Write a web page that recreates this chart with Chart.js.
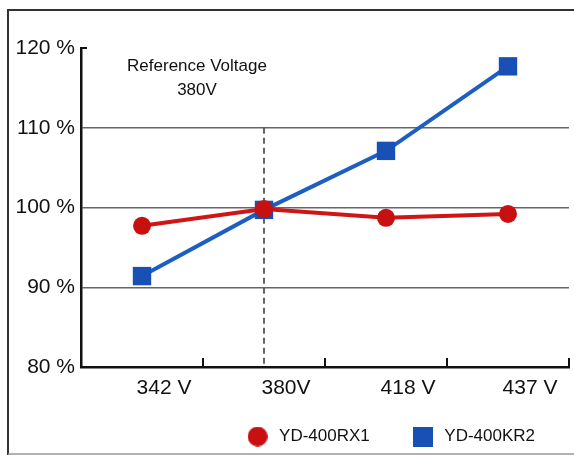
<!DOCTYPE html>
<html>
<head>
<meta charset="utf-8">
<script src="https://cdn.jsdelivr.net/npm/chart.js@4"></script>
<style>
html,body{margin:0;padding:0;background:#fff;}
#wrap{position:relative;width:574px;height:455px;}
</style>
</head>
<body>
<div id="wrap"><canvas id="c" width="574" height="455"></canvas></div>
<script>
const categories = ['342 V', '380V', '418 V', '437 V'];
const seriesRX1 = [97.7, 99.8, 98.7, 99.2];
const seriesKR2 = [91.4, 99.7, 107.1, 117.7];
const seriesNames = ['YD-400RX1', 'YD-400KR2'];
const yTicks = [80, 90, 100, 110, 120];
const referenceIndex = 1;
const annotationLines = ['Reference Voltage', '380V'];

const FONT = 'Arial, "Liberation Sans", sans-serif';
const RED = '#c81010';
const BLUE = '#1850b5';

function markerImage(kind, color) {
  const c = document.createElement('canvas');
  c.width = 20; c.height = 20;
  const g = c.getContext('2d');
  g.fillStyle = color;
  if (kind === 'circle') { g.beginPath(); g.arc(10, 10, 10, 0, Math.PI * 2); g.fill(); }
  else { g.fillRect(0, 0, 20, 20); }
  return c;
}
const legendMarkers = [markerImage('circle', RED), markerImage('rect', BLUE)];

const decor = {
  id: 'decor',
  afterLayout(chart) {
    const lg = chart.legend;
    if (lg) { lg.left += 6; lg.right += 6; }
    // let the x labels draw below the (compact) axis box
    chart.scales.x.bottom += 40;
  },
  beforeDatasetsDraw(chart) {
    const ctx = chart.ctx;
    const x = chart.scales.x, y = chart.scales.y;
    ctx.save();
    // frame
    ctx.strokeStyle = '#333';
    ctx.lineWidth = 2;
    ctx.beginPath();
    ctx.moveTo(8, 455); ctx.lineTo(8, 10); ctx.lineTo(574, 10);
    ctx.stroke();
    ctx.strokeStyle = '#999';
    ctx.lineWidth = 1.5;
    ctx.beginPath();
    ctx.moveTo(8, 454); ctx.lineTo(574, 454);
    ctx.stroke();
    // dashed reference line
    const rx = x.getPixelForValue(referenceIndex);
    ctx.strokeStyle = '#333';
    ctx.lineWidth = 1.5;
    ctx.setLineDash([6, 4]);
    ctx.beginPath();
    ctx.moveTo(rx, y.getPixelForValue(110));
    ctx.lineTo(rx, y.bottom);
    ctx.stroke();
    ctx.setLineDash([]);
    // x ticks pointing inward
    ctx.strokeStyle = '#111';
    ctx.lineWidth = 2;
    const half = (x.getPixelForValue(1) - x.getPixelForValue(0)) / 2;
    for (let i = 0; i < categories.length; i++) {
      const tx = x.getPixelForValue(i) + half;
      ctx.beginPath();
      ctx.moveTo(tx, y.bottom);
      ctx.lineTo(tx, y.bottom - 9);
      ctx.stroke();
    }
    // top stub on y axis
    ctx.beginPath();
    ctx.moveTo(x.left, y.top);
    ctx.lineTo(x.left + 6, y.top);
    ctx.stroke();
    // annotation
    ctx.fillStyle = '#111';
    ctx.font = '17px ' + FONT;
    ctx.textAlign = 'center';
    ctx.textBaseline = 'middle';
    const ax = (x.getPixelForValue(0) + x.getPixelForValue(1)) / 2 - 6;
    ctx.fillText(annotationLines[0], ax, y.getPixelForValue(117.7));
    ctx.fillText(annotationLines[1], ax, y.getPixelForValue(114.7));
    ctx.restore();
  }
};

new Chart(document.getElementById('c'), {
  type: 'line',
  data: {
    labels: categories,
    datasets: [
      {
        label: seriesNames[0],
        data: seriesRX1,
        borderColor: '#cf1515',
        backgroundColor: RED,
        borderWidth: 4,
        pointStyle: 'circle',
        pointRadius: 9,
        pointBorderWidth: 0,
        pointBackgroundColor: RED,
        tension: 0
      },
      {
        label: seriesNames[1],
        data: seriesKR2,
        borderColor: '#1d5ec2',
        backgroundColor: BLUE,
        borderWidth: 4,
        pointStyle: 'rect',
        pointRadius: 13,
        pointBorderWidth: 0,
        pointBackgroundColor: BLUE,
        tension: 0
      }
    ]
  },
  options: {
    responsive: false,
    animation: false,
    devicePixelRatio: 1,
    layout: { autoPadding: false, padding: { top: 48, right: 5, left: 0, bottom: 0 } },
    plugins: {
      tooltip: { enabled: false },
      legend: {
        position: 'bottom',
        align: 'end',
        labels: {
          usePointStyle: true,
          pointStyleWidth: 26,
          boxWidth: 20,
          boxHeight: 20,
          padding: 40,
          color: '#111',
          font: { family: FONT, size: 17 },
          generateLabels(chart) {
            return chart.data.datasets.map((ds, i) => ({
              text: ds.label,
              pointStyle: legendMarkers[i],
              fillStyle: ds.backgroundColor,
              strokeStyle: ds.backgroundColor,
              lineWidth: 0,
              hidden: false,
              datasetIndex: i,
              fontColor: '#111'
            }));
          }
        }
      }
    },
    scales: {
      x: {
        offset: true,
        grid: { display: false, offset: true, tickLength: 6 },
        border: { display: true, color: '#111', width: 2.5 },
        ticks: {
          color: '#111',
          font: { family: FONT, size: 21 },
          labelOffset: 22,
          padding: 3,
          maxRotation: 0
        },
        afterFit(s) { s.height = 21; s.paddingLeft = 0; s.paddingRight = 0; }
      },
      y: {
        min: 80, max: 120,
        afterBuildTicks(s) { s.ticks = yTicks.map(v => ({ value: v })); },
        grid: {
          drawTicks: false,
          lineWidth: 1.5,
          color: c => (c.tick && (c.tick.value === 80 || c.tick.value === 120)) ? 'rgba(0,0,0,0)' : '#666'
        },
        border: { display: true, color: '#111', width: 2.5 },
        ticks: {
          color: '#111',
          font: { family: FONT, size: 21 },
          padding: 6,
          callback: v => v + ' %'
        },
        afterFit(s) { s.width = 81; }
      }
    }
  },
  plugins: [decor]
});
</script>
</body>
</html>
